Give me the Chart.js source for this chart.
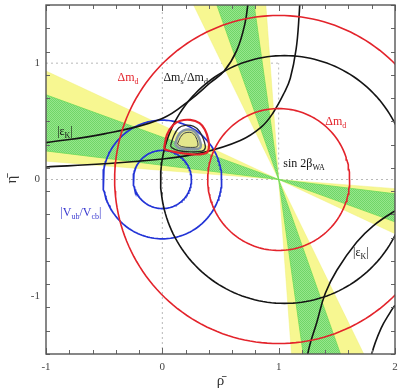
<!DOCTYPE html>
<html>
<head>
<meta charset="utf-8">
<script src="https://cdn.jsdelivr.net/npm/chart.js@4.4.0/dist/chart.umd.min.js"></script>
<style>
  html, body { margin: 0; padding: 0; background: #fff; }
  #plot { display: block; }
</style>
</head>
<body>
<canvas id="plot" width="398" height="390"></canvas>
<script>
// axis ranges and labelled ticks (rho-bar, eta-bar)
const xRange = [-1, 2];
const yRange = [-1.5, 1.5];
const xTickLabels = [-1, 0, 1, 2];
const yTickLabels = [-1, 0, 1];

// circles: centre + radii
const dmdCenter = [1, 0];
const dmdRadii = [0.61, 1.41];
const dmsCenter = [1.05, 0];
const dmsRadii = [1.065];
const vubCenter = [0, 0];
const vubRadii = [0.25, 0.51];

// sin 2beta: edge angles (deg) of the bands, seen from the (1,0) corner
const s2bApex = [1, 0];
const s2bYellow = [[155, 175.5], [94.2, 116]];
const s2bGreen = [[160, 173], [98, 109.5]];

// |eps_K| boundaries, points
const epsUpperA = [[-1, 0.317], [-0.5, 0.392], [0, 0.525], [0.24, 0.685], [0.41, 0.83],
  [0.53, 0.93], [0.64, 1.11], [0.71, 1.34], [0.74, 1.55], [0.76, 1.75]];
const epsUpperB = [[-1, 0.108], [-0.5, 0.135], [0, 0.176], [0.35, 0.232], [0.67, 0.335],
  [0.85, 0.45], [0.95, 0.57], [1.05, 0.75], [1.1, 0.87], [1.15, 1.12], [1.175, 1.4], [1.19, 1.7]];
const epsLowerC = [[1.21, -1.85], [1.25, -1.5], [1.33, -1.22], [1.4, -0.98], [1.5, -0.78],
  [1.67, -0.54], [1.81, -0.4], [2, -0.27], [2.1, -0.22]];
const epsLowerD = [[1.77, -1.7], [1.8, -1.5], [1.88, -1.28], [1.96, -1.14], [2, -1.08], [2.1, -0.97]];

// fit contours around the apex
const apexRed = [[0.015, 0.27], [0.04, 0.385], [0.095, 0.47], [0.155, 0.505], [0.24, 0.512],
  [0.32, 0.485], [0.365, 0.43], [0.395, 0.345], [0.4, 0.27], [0.38, 0.23], [0.3, 0.215],
  [0.18, 0.225], [0.095, 0.24], [0.03, 0.255]];
const apexBlack = [[0.07, 0.29], [0.097, 0.372], [0.14, 0.443], [0.197, 0.466], [0.269, 0.457],
  [0.32, 0.414], [0.355, 0.343], [0.369, 0.272], [0.34, 0.243], [0.24, 0.237], [0.14, 0.248],
  [0.083, 0.272]];
const apexGray = [[0.11, 0.3], [0.135, 0.375], [0.18, 0.42], [0.255, 0.425], [0.3, 0.385],
  [0.328, 0.315], [0.322, 0.27], [0.24, 0.26], [0.15, 0.268]];
const apexInner = [[0.13, 0.305], [0.155, 0.362], [0.19, 0.398], [0.25, 0.403], [0.285, 0.37],
  [0.305, 0.315], [0.3, 0.283], [0.24, 0.276], [0.165, 0.283]];

const RED = "#e3232b";
const BLUE = "#2233d6";
const BLACK = "#141414";
const SERIF = "'Liberation Serif', 'Times New Roman', serif";

const toXY = (pts) => pts.map(([x, y]) => ({ x, y }));
const closed = (pts) => toXY(pts.concat([pts[0]]));

function circlePoints(c, r) {
  const pts = [];
  for (let i = 0; i <= 180; i++) {
    const a = (i / 180) * 2 * Math.PI;
    pts.push({ x: c[0] + r * Math.cos(a), y: c[1] + r * Math.sin(a) });
  }
  return pts;
}

// both halves of a band through the apex (line, not ray)
function bandPoints(apex, [a1, a2]) {
  const L = 6;
  const at = (deg) => ({
    x: apex[0] + L * Math.cos((deg * Math.PI) / 180),
    y: apex[1] + L * Math.sin((deg * Math.PI) / 180)
  });
  const o = { x: apex[0], y: apex[1] };
  return [o, at(a1), at(a2), o, at(a1 + 180), at(a2 + 180), o];
}

function greenHatch() {
  const c = document.createElement("canvas");
  c.width = 2;
  c.height = 2;
  const g = c.getContext("2d");
  g.fillStyle = "rgb(150,230,140)";
  g.fillRect(0, 0, 2, 2);
  g.fillStyle = "rgb(112,214,104)";
  g.fillRect(0, 0, 1, 1);
  g.fillRect(1, 1, 1, 1);
  return g.createPattern(c, "repeat");
}
const GREEN = greenHatch();

function curve(data, color, width, extra = {}) {
  return Object.assign({
    data,
    showLine: true,
    borderColor: color,
    borderWidth: width,
    pointRadius: 0,
    fill: false,
    tension: 0,
    order: 5
  }, extra);
}

const datasets = [];
s2bYellow.forEach((b) => datasets.push(curve(bandPoints(s2bApex, b), "rgba(240,240,120,0.9)", 0.5,
  { fill: "shape", backgroundColor: "rgb(247,247,145)", order: 20 })));
s2bGreen.forEach((b) => datasets.push(curve(bandPoints(s2bApex, b), "rgb(110,220,90)", 0.8,
  { fill: "shape", backgroundColor: GREEN, order: 19 })));
dmdRadii.forEach((r) => datasets.push(curve(circlePoints(dmdCenter, r), RED, 1.6)));
dmsRadii.forEach((r) => datasets.push(curve(circlePoints(dmsCenter, r), BLACK, 1.6)));
[epsUpperA, epsUpperB, epsLowerC, epsLowerD].forEach((p) =>
  datasets.push(curve(toXY(p), BLACK, 1.6, { tension: 0.4 })));
vubRadii.forEach((r) => datasets.push(curve(circlePoints(vubCenter, r), BLUE, 1.7)));
datasets.push(curve(closed(apexRed), RED, 2.2, { tension: 0.35, order: 4 }));
datasets.push(curve(closed(apexBlack), "#2a2a2a", 1.3, { tension: 0.35, order: 3 }));
datasets.push(curve(closed(apexGray), "#8796a3", 2.6,
  { tension: 0.35, fill: "shape", backgroundColor: "rgb(228,230,140)", order: 2 }));
datasets.push(curve(closed(apexInner), "#3a4048", 1.0, { tension: 0.35, order: 1 }));

// text labels: [text, subscript] pieces, left edge and baseline in data units
const annotations = [
  { parts: [["Δm", 0], ["d", 1]], at: [-0.386, 0.848], color: RED },
  { parts: [["Δm", 0], ["s", 1], ["/Δm", 0], ["d", 1]], at: [0.009, 0.848], color: BLACK },
  { parts: [["|ε", 0], ["K", 1], ["|", 0]], at: [-0.904, 0.386], color: BLACK },
  { parts: [["Δm", 0], ["d", 1]], at: [1.4, 0.471], color: RED },
  { parts: [["sin 2β", 0], ["WA", 1]], at: [1.04, 0.11], color: BLACK },
  { parts: [["|V", 0], ["ub", 1], ["/V", 0], ["cb", 1], ["|", 0]], at: [-0.876, -0.314], color: "#3a3ad0" },
  { parts: [["|ε", 0], ["K", 1], ["|", 0]], at: [1.64, -0.657], color: BLACK }
];

const overlay = {
  id: "overlay",
  beforeDatasetsDraw(chart) {
    const { ctx, scales: { x, y } } = chart;
    const seg = (x1, y1, x2, y2) => {
      ctx.beginPath();
      ctx.moveTo(x.getPixelForValue(x1), y.getPixelForValue(y1));
      ctx.lineTo(x.getPixelForValue(x2), y.getPixelForValue(y2));
      ctx.stroke();
    };
    ctx.save();
    ctx.strokeStyle = "#b8b8b8";
    ctx.lineWidth = 1;
    ctx.setLineDash([2, 3]);
    seg(0, yRange[0], 0, yRange[1]);
    seg(xRange[0], 0, xRange[1], 0);
    seg(xRange[0], 1, 1, 1);
    seg(1, 0, 1, 1);
    ctx.restore();
  },
  afterDatasetsDraw(chart) {
    const { ctx, chartArea: a, scales: { x, y } } = chart;
    ctx.save();

    // ticks every 0.2, pointing inwards on all four sides
    ctx.strokeStyle = "#666";
    ctx.lineWidth = 1;
    for (let i = 0; i <= Math.round((xRange[1] - xRange[0]) / 0.2); i++) {
      const v = xRange[0] + i * 0.2;
      const px = Math.round(x.getPixelForValue(v)) + 0.5;
      const len = Math.abs(v - Math.round(v)) < 1e-6 ? 6 : 4;
      ctx.beginPath();
      ctx.moveTo(px, a.bottom); ctx.lineTo(px, a.bottom - len);
      ctx.moveTo(px, a.top); ctx.lineTo(px, a.top + len);
      ctx.stroke();
    }
    for (let i = 0; i <= Math.round((yRange[1] - yRange[0]) / 0.2); i++) {
      const v = yRange[0] + i * 0.2;
      const py = Math.round(y.getPixelForValue(v)) + 0.5;
      const len = Math.abs(v - Math.round(v)) < 1e-6 ? 6 : 4;
      ctx.beginPath();
      ctx.moveTo(a.left, py); ctx.lineTo(a.left + len, py);
      ctx.moveTo(a.right, py); ctx.lineTo(a.right - len, py);
      ctx.stroke();
    }

    // frame
    ctx.strokeStyle = "#555";
    ctx.lineWidth = 1.4;
    ctx.strokeRect(a.left, a.top, a.right - a.left, a.bottom - a.top);

    // labels
    ctx.textBaseline = "alphabetic";
    ctx.textAlign = "left";
    annotations.forEach(({ parts, at, color }) => {
      let px = x.getPixelForValue(at[0]);
      const py = y.getPixelForValue(at[1]);
      ctx.fillStyle = color;
      parts.forEach(([text, sub]) => {
        ctx.font = sub ? `8px ${SERIF}` : `12px ${SERIF}`;
        ctx.fillText(text, px, sub ? py + 3 : py);
        px += ctx.measureText(text).width;
      });
    });
    ctx.restore();
  }
};

const tickFont = { family: SERIF, size: 11 };

new Chart(document.getElementById("plot"), {
  type: "scatter",
  data: { datasets },
  options: {
    responsive: false,
    animation: false,
    events: [],
    layout: { padding: { left: 1, top: 5, right: 3, bottom: 0 } },
    plugins: { legend: { display: false }, tooltip: { enabled: false } },
    scales: {
      x: {
        type: "linear",
        min: xRange[0],
        max: xRange[1],
        afterBuildTicks: (s) => { s.ticks = xTickLabels.map((value) => ({ value })); },
        afterFit: (s) => { s.height = 36; s.paddingLeft = 0; s.paddingRight = 0; },
        ticks: { font: tickFont, color: "#444", padding: 7 },
        grid: { display: false, drawTicks: false },
        border: { display: false },
        title: { display: true, text: "ρ̄", font: { family: SERIF, size: 15 }, color: "#333", padding: { top: 0, bottom: 0 } }
      },
      y: {
        type: "linear",
        min: yRange[0],
        max: yRange[1],
        afterBuildTicks: (s) => { s.ticks = yTickLabels.map((value) => ({ value })); },
        afterFit: (s) => { s.width = 45; s.paddingTop = 0; s.paddingBottom = 0; },
        ticks: { font: tickFont, color: "#444", padding: 6 },
        grid: { display: false, drawTicks: false },
        border: { display: false },
        title: { display: true, text: "η̄", font: { family: SERIF, size: 15 }, color: "#333", padding: { top: 2, bottom: 0 } }
      }
    }
  },
  plugins: [overlay]
});
</script>
</body>
</html>
